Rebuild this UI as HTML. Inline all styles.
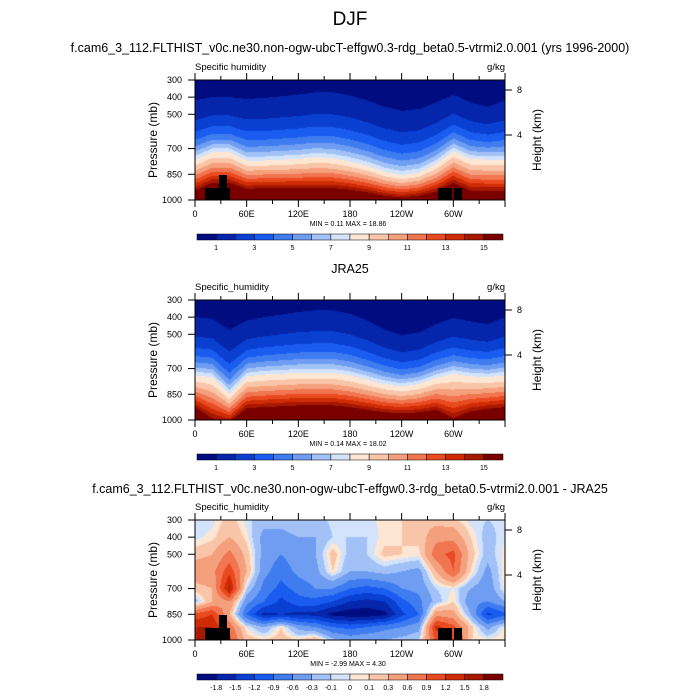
<!DOCTYPE html>
<html><head><meta charset="utf-8"><style>
body{margin:0;background:#fff;width:700px;height:700px;overflow:hidden;font-family:"Liberation Sans",sans-serif}
#root{position:relative;width:700px;height:700px}
.t{position:absolute;white-space:nowrap;color:#000}
canvas{position:absolute}
</style></head><body><div id="root">
<div class="t" style="left:0;width:700px;text-align:center;top:9px;font-size:19px">DJF</div>
<div class="t" style="left:0;width:700px;text-align:center;top:41px;font-size:12.5px">f.cam6_3_112.FLTHIST_v0c.ne30.non-ogw-ubcT-effgw0.3-rdg_beta0.5-vtrmi2.0.001 (yrs 1996-2000)</div>
<div class="t" style="left:0;width:700px;text-align:center;top:262px;font-size:12.5px">JRA25</div>
<div class="t" style="left:0;width:700px;text-align:center;top:482px;font-size:12.5px">f.cam6_3_112.FLTHIST_v0c.ne30.non-ogw-ubcT-effgw0.3-rdg_beta0.5-vtrmi2.0.001 - JRA25</div>
<svg id="ov" width="700" height="700" style="position:absolute;left:0;top:0"></svg>
</div>
<script>
const lons=[0,20,40,60,80,100,120,140,160,180,200,220,240,260,280,300,320,340,360];
// panel 1 (model) anchor pressures for q=1, q=8, q=15 g/kg
const m_p1=[420,400,400,410,405,395,385,372,372,390,420,455,480,470,430,385,430,455,420];
const m_p8=[765,720,720,770,770,765,760,750,755,775,800,835,855,840,790,715,760,765,765];
const m_p15=[945,900,900,935,930,930,930,930,930,940,955,975,985,975,950,900,945,945,945];
// panel 2 (JRA25)
const j_p1=[400,410,475,420,400,385,370,360,360,380,420,470,505,490,440,405,425,440,400];
const j_p8=[740,750,850,745,735,730,725,725,725,740,765,790,805,790,755,730,745,750,740];
const j_p15=[925,990,1010,930,925,920,915,915,915,925,940,955,960,955,940,990,950,935,925];
// panel 3 difference grid: rows = pressure levels, cols = lons
const d_levs=[300,400,500,600,700,775,850,925,1000];
const diff=[
[-0.05,-0.05,0.2,-0.05,-0.2,-0.2,-0.1,-0.2,-0.05,-0.05,-0.05,0.05,0.1,0.2,0.2,0.15,-0.05,-0.1,-0.05],
[-0.05,0.05,0.3,0.05,-0.4,-0.4,-0.3,-0.3,-0.1,-0.1,-0.1,0.05,0.1,0.15,0.5,0.5,0.1,-0.2,0],
[0.2,0.3,0.7,0.2,-0.4,-0.6,-0.4,-0.3,0.2,-0.2,-0.1,0.15,0.1,0.05,0.8,1.0,0.2,-0.2,0.05],
[0.5,0.5,1.1,0.3,-0.5,-0.8,-0.5,-0.4,0.1,-0.3,-0.3,-0.2,-0.3,-0.4,0.3,0.9,0.1,-0.4,0.1],
[0.2,0.3,1.6,-0.1,-0.7,-1.0,-0.8,-0.6,-0.6,-0.9,-1.0,-0.9,-0.6,-0.5,-0.1,0.0,-0.3,-0.5,0.05],
[-0.2,0.3,0.6,-0.5,-0.9,-1.3,-1.0,-1.0,-1.2,-1.5,-1.6,-1.5,-1.0,-0.7,-0.2,0.1,-0.5,-0.6,-0.3],
[1.0,1.2,0.3,-0.9,-1.6,-1.5,-1.6,-1.6,-1.9,-2.0,-2.0,-1.9,-1.3,-0.9,0.5,0.4,-0.3,-1.3,-1.0],
[1.5,1.5,0.8,0.0,-0.3,0.1,-0.4,-0.6,-0.9,-1.0,-0.9,-0.7,-0.6,-0.4,1.3,1.0,0.2,-0.4,0.05],
[1.5,1.5,1.0,0.2,0.1,0.2,0.1,0.3,-0.2,-0.4,-0.3,-0.3,-0.2,-0.1,1.0,1.2,0.1,0.05,0.1]];
const q_levels=[1,2,3,4,5,6,7,8,9,10,11,12,13,14,15];
const q_labels=["1","3","5","7","9","11","13","15"];
const d_levels=[-1.8,-1.5,-1.2,-0.9,-0.6,-0.3,-0.1,0,0.1,0.3,0.6,0.9,1.2,1.5,1.8];
const d_labels=["-1.8","-1.5","-1.2","-0.9","-0.6","-0.3","-0.1","0","0.1","0.3","0.6","0.9","1.2","1.5","1.8"];
const lonTicks=[0,60,120,180,240,300];
const lonLabels=["0","60E","120E","180","120W","60W"];
const pTicks=[300,400,500,700,850,1000];
const hTicks=[8,4];
const colors=["#000c80","#0525aa","#0a40d2","#1a5cf0","#3e7cf0","#6f9df2","#a2c2f7","#d2e3fb","#fde6d3","#f9c5a8","#f5a07d","#f07550","#ea4a20","#cf2c06","#a61800","#7a0000"];

const X0=195,W=310,H=120;
const panels=[{top:80,kind:'m'},{top:300,kind:'j'},{top:520,kind:'d'}];
const xOf=l=>X0+l/360*W;
const yOf=(p,top)=>top+(p-300)/700*H;
function interpLon(arr,l){const i=Math.min(17,Math.floor(l/20));const f=(l-lons[i])/20;return arr[i]*(1-f)+arr[i+1]*f;}
function qAt(a1,a8,a15,l,p){
 const p1=interpLon(a1,l),p8=interpLon(a8,l),p15=interpLon(a15,l);
 const L1=0,L8=Math.log(8),L15=Math.log(15);let lq;
 if(p<p8)lq=L1+(p-p1)/(p8-p1)*(L8-L1);
 else lq=L8+(p-p8)/(p15-p8)*(L15-L8);
 return Math.min(16.5,Math.exp(lq));}
function dAt(l,p){
 const i=Math.min(17,Math.floor(l/20));const f=(l-lons[i])/20;
 let k=0;while(k<7&&p>d_levs[k+1])k++;const g=(p-d_levs[k])/(d_levs[k+1]-d_levs[k]);
 const a=diff[k][i]*(1-f)+diff[k][i+1]*f,b=diff[k+1][i]*(1-f)+diff[k+1][i+1]*f;return a*(1-g)+b*g;}
function bin(v,levs){let c=0;while(c<levs.length&&v>=levs[c])c++;return c;}
const root=document.getElementById('root');
panels.forEach((pn,pi)=>{
 const cv=document.createElement('canvas');cv.width=W;cv.height=H;cv.style.left=X0+'px';cv.style.top=pn.top+'px';
 
 
 root.insertBefore(cv,document.getElementById('ov'));
 const ctx=cv.getContext('2d');
 for(let px=0;px<W;px++)for(let py=0;py<H;py++){
  const l=(px+0.5)/W*360,p=300+(py+0.5)/H*700;let c;
  if(pn.kind==='m')c=bin(qAt(m_p1,m_p8,m_p15,l,p),q_levels);
  else if(pn.kind==='j')c=bin(qAt(j_p1,j_p8,j_p15,l,p),q_levels);
  else c=bin(dAt(l,p),d_levels);
  ctx.fillStyle=colors[c];ctx.fillRect(px,py,1,1);}
});
const ov=document.getElementById('ov');const NS='http://www.w3.org/2000/svg';
function el(tag,at,txt){const e=document.createElementNS(NS,tag);for(const k in at)e.setAttribute(k,at[k]);if(txt!==undefined)e.textContent=txt;ov.appendChild(e);return e;}
const mm=[["MIN =   0.11  MAX =  18.86"],["MIN =  0.14  MAX = 18.02"],["MIN =  -2.99  MAX =  4.30"]];
panels.forEach((pn,pi)=>{
 const T=pn.top,B=T+H;
 if(pn.kind!=='j'){
  [[205,188,25,12],[219,175,8,13],[438,188,14,12],[454,188,8,12]].forEach((r,k)=>{const e=el('rect',{x:r[0],y:r[1]-80+T,width:r[2],height:r[3],fill:'#000'});
   
   });
 }
 const fr=el('rect',{x:X0,y:T,width:W,height:H,fill:'none',stroke:'#000','stroke-width':1});
 
 
 for(let l=0;l<=360;l+=30){const x=xOf(l),maj=l%60===0;
  el('line',{x1:x,x2:x,y1:B,y2:B+(maj?7:4),stroke:'#000'});el('line',{x1:x,x2:x,y1:T,y2:T-(maj?7:4),stroke:'#000'});}
 lonTicks.forEach((l,k)=>{const t=el('text',{x:xOf(l),y:B+17,'font-size':9,'text-anchor':'middle'},lonLabels[k]);
  
  });
 pTicks.forEach(p=>{const y=yOf(p,T);el('line',{x1:X0-7,x2:X0,y1:y,y2:y,stroke:'#000'});
  const t=el('text',{x:X0-13,y:y+3,'font-size':9,'text-anchor':'end'},String(p));
  
  });
 hTicks.forEach(h=>{const y=h===8?T+10:T+55;el('line',{x1:X0+W,x2:X0+W+7,y1:y,y2:y,stroke:'#000'});
  const t=el('text',{x:X0+W+12,y:y+3,'font-size':9},String(h));
  
  });
 const yl=el('text',{x:0,y:0,'font-size':12,'text-anchor':'middle',transform:`translate(157,${T+60}) rotate(-90)`},'Pressure (mb)');
 
 
 const yr=el('text',{x:0,y:0,'font-size':12,'text-anchor':'middle',transform:`translate(541,${T+60}) rotate(-90)`},'Height (km)');
 
 
 const lt=el('text',{x:X0,y:T-10,'font-size':9.5},pi===0?'Specific humidity':'Specific_humidity');
 
 
 const ut=el('text',{x:X0+W,y:T-10,'font-size':9.5,'text-anchor':'end'},'g/kg');
 
 
 const mt=el('text',{x:348,y:B+26,'font-size':7,'text-anchor':'middle'},mm[pi][0]);
 
 
 // colorbar
 const cy=T+154,cw=306/16,cx=197;
 for(let i=0;i<16;i++){const r=el('rect',{x:cx+i*cw,y:cy,width:cw,height:6,fill:colors[i],stroke:'#000','stroke-width':0.5});
  
  }
 if(pn.kind==='d'){d_labels.forEach((s,k)=>{const t=el('text',{x:cx+(k+1)*cw,y:cy+16,'font-size':7,'text-anchor':'middle'},s);
   
   });}
 else{q_labels.forEach((s,k)=>{const t=el('text',{x:cx+(2*k+1)*cw,y:cy+16,'font-size':7,'text-anchor':'middle'},s);
   
   });}
});
</script></body></html>
